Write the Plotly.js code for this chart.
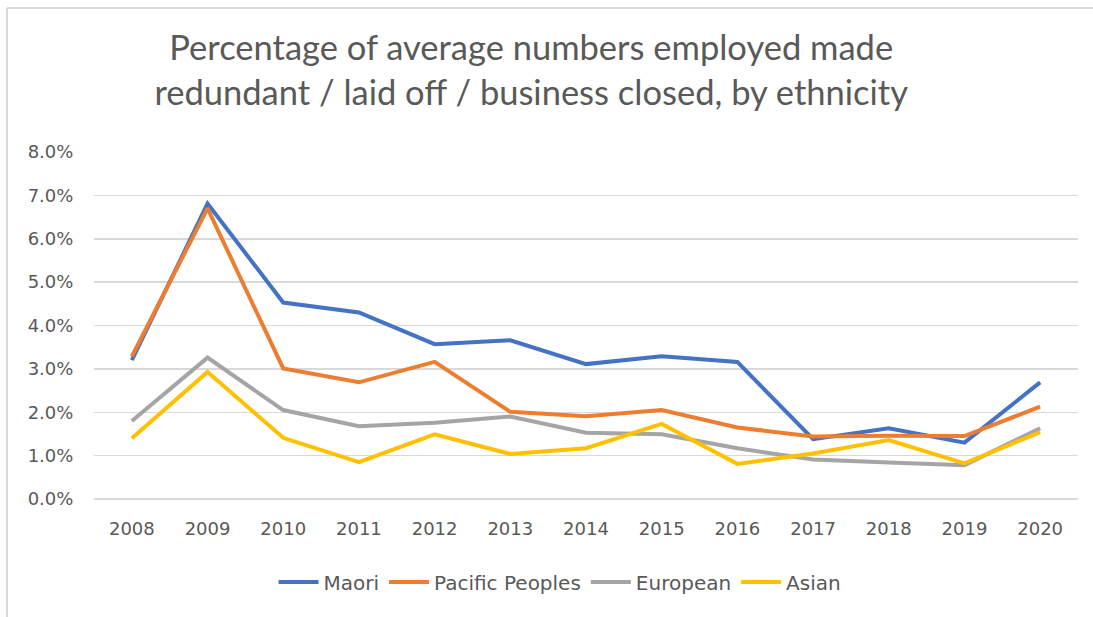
<!DOCTYPE html>
<html>
<head>
<meta charset="utf-8">
<script src="https://cdn.plot.ly/plotly-3.0.1.min.js"></script>
<style>
  html, body { margin: 0; padding: 0; background: #fff; }
  #chart { width: 1093px; height: 617px; }
</style>
</head>
<body>
<div id="chart"></div>
<script>
var chartDiv = document.getElementById('chart');

// years on the category axis
var years = ['2008', '2009', '2010', '2011', '2012', '2013', '2014',
             '2015', '2016', '2017', '2018', '2019', '2020'];

// percent made redundant
var maori    = [3.20, 6.81, 4.53, 4.30, 3.57, 3.66, 3.11, 3.29, 3.16, 1.38, 1.63, 1.30, 2.69];
var pacific  = [3.29, 6.70, 3.01, 2.69, 3.16, 2.01, 1.91, 2.05, 1.65, 1.44, 1.46, 1.45, 2.13];
var european = [1.80, 3.26, 2.05, 1.68, 1.76, 1.90, 1.53, 1.49, 1.17, 0.91, 0.84, 0.78, 1.63];
var asian    = [1.40, 2.93, 1.41, 0.85, 1.49, 1.04, 1.17, 1.73, 0.81, 1.05, 1.36, 0.82, 1.54];

var seriesNames = ['Maori', 'Pacific Peoples', 'European', 'Asian'];

var textGrey = '#595959';
var gridGrey = '#d9d9d9';

function makeLine(name, yvals, colour) {
  return {
    type: 'scatter',
    mode: 'lines',
    x: years,
    y: yvals,
    name: name,
    line: {color: colour, width: 4},
    hoverinfo: 'x+y+name'
  };
}

var data = [
  makeLine(seriesNames[0], maori, '#4472C4'),
  makeLine(seriesNames[1], pacific, '#ED7D31'),
  makeLine(seriesNames[2], european, '#A5A5A5'),
  makeLine(seriesNames[3], asian, '#FFC000')
];

var layout = {
  width: 1093,
  height: 617,
  autosize: false,
  margin: {l: 94, r: 15, t: 152, b: 118},
  paper_bgcolor: '#ffffff',
  plot_bgcolor: '#ffffff',
  font: {family: '"DejaVu Sans", sans-serif', size: 18, color: textGrey},
  title: {
    text: 'Percentage of average numbers employed made<br>redundant / laid off / business closed, by ethnicity',
    font: {family: 'Lato, sans-serif', size: 34.5, color: textGrey},
    xref: 'container',
    x: 0.486,
    xanchor: 'center',
    yref: 'container',
    y: 0.902,
    yanchor: 'top'
  },
  xaxis: {
    type: 'category',
    range: [-0.5, years.length - 0.5],
    showgrid: false,
    showline: false,
    zeroline: false,
    ticks: 'outside',
    ticklen: 13,
    tickcolor: 'rgba(0,0,0,0)',
    tickfont: {size: 18, color: textGrey}
  },
  yaxis: {
    range: [0, 8],
    dtick: 1,
    tickformat: '.1f',
    ticksuffix: '%',
    showgrid: true,
    gridcolor: gridGrey,
    gridwidth: 1.5,
    zeroline: true,
    zerolinecolor: gridGrey,
    zerolinewidth: 1.5,
    showline: false,
    ticks: 'outside',
    ticklen: 16,
    tickcolor: 'rgba(0,0,0,0)',
    tickfont: {size: 18, color: textGrey}
  },
  legend: {
    orientation: 'h',
    x: 0.4736,
    xanchor: 'center',
    y: -0.239,
    yanchor: 'middle',
    font: {size: 20, color: textGrey},
    itemwidth: 40
  },
  // outer frame of the original chart box (top and left edges only are visible)
  shapes: [
    {type: 'line', xref: 'paper', yref: 'paper', x0: -0.0884, x1: 1.02, y0: 1.415, y1: 1.415,
     line: {color: gridGrey, width: 2}},
    {type: 'line', xref: 'paper', yref: 'paper', x0: -0.0884, x1: -0.0884, y0: 1.415, y1: -0.35,
     line: {color: gridGrey, width: 2}}
  ]
};

var config = {responsive: false, displayModeBar: false, staticPlot: true};

Plotly.newPlot(chartDiv, data, layout, config);
</script>
</body>
</html>
